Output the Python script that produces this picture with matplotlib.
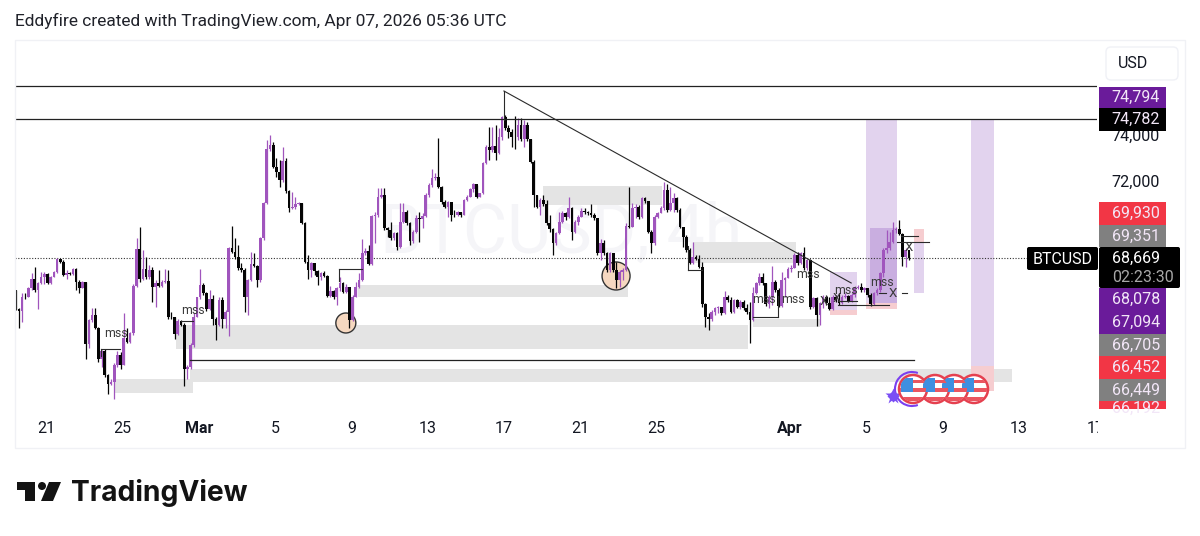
import matplotlib
matplotlib.use("Agg")
import matplotlib.pyplot as plt
from matplotlib.patches import Rectangle, Circle, Ellipse, FancyBboxPatch, Polygon, Arc

plt.rcParams['font.family'] = ['Roboto', 'DejaVu Sans']

closes = [66440,66330,66970,66960,67330,67735,67255,67545,67835,67950,67545,67835,68050,68590,68490,67910,68010,67950,68155,67620,
67330,67620,64910,65950,66170,65630,64240,64615,63560,63195,63270,63990,64430,63990,65195,65010,65370,67430,69025,67760,
68155,67805,68125,67370,67545,67430,67620,67650,66095,66065,65340,65920,65730,63805,63920,64865,66095,66935,67470,67110,
66415,66890,65980,65730,66820,65980,66315,69070,68925,68705,68200,68125,66965,67690,68370,68300,67690,69500,71025,73375,
73565,72590,72400,72040,72865,71575,70810,70880,71000,71055,70185,68490,68125,68445,68095,67805,68010,67865,66995,67225,
66965,67330,67575,67180,67370,65950,66965,67400,67690,68850,68965,68385,70475,70520,71315,71390,69940,69865,69500,69720,
69140,70230,70660,70155,69400,69790,70375,70330,70475,71390,71820,72110,72185,71750,71100,70880,71100,70520,70510,70660,
70520,71170,71315,71635,71865,71315,71460,72765,73490,73345,73520,73200,73925,74795,74290,74140,73925,73895,74430,73810,
74430,73810,72840,71390,70880,71170,71000,70155,69895,69285,69720,70230,70620,70415,70810,69790,70230,70445,70705,70660,
70590,70520,70375,68850,69285,68850,68125,68850,68125,67690,68050,68125,70055,70010,70810,70880,70415,71240,71140,69790,
69285,70445,70590,70810,71605,70735,71025,71240,70735,70010,69575,68995,68445,68705,68630,68270,66650,66095,65980,66315,
66460,66500,66240,66965,66820,66315,66820,66530,66750,66460,66285,65950,67110,67545,67835,67545,66650,66965,67620,67255,
66560,67690,67765,68155,68230,68780,68415,68850,68200,68560,66500,66895,66170,66675,66965,66675,66415,66965,66820,66675,
66965,66995,66790,67040,67330,67400,67255,67330,67040,66650,67110,67255,67980,68995,69070,69360,69865,69895,69690,68705,
68995,68669]
highs = [67255,66470,67110,67110,67400,67980,68270,67620,68050,68050,68010,67865,68095,68660,68620,68560,68125,68050,68200,68200,
67690,67660,67620,66020,66460,66460,65660,64645,64675,63630,63410,64065,64615,64570,66280,65590,65440,67515,69500,70010,
68995,68705,68340,68270,67690,68125,67690,68155,68125,66310,66095,66020,65950,65805,63990,64935,66240,66965,68155,67575,
67180,67255,67040,66095,66965,66965,66385,69140,70055,69500,69210,68415,68200,67760,68920,68850,68340,69575,71100,73780,
74000,73710,72980,72910,73490,72980,71605,71530,71315,71100,71055,70230,68780,68490,68125,68125,68050,68095,67910,67430,
67255,67400,67835,67620,67515,67330,67040,67620,67980,69460,69070,69210,70520,70660,71705,71675,71675,70010,70230,69790,
69790,71025,71025,70735,70230,69865,70520,70660,70590,71460,71895,72505,72330,73850,71780,71170,71140,71055,70735,70705,
70660,71200,71390,71680,71925,71820,71490,72840,73560,74330,74360,74430,74290,74825,74865,74430,74245,74825,74720,74720,
74650,74580,73840,72910,71390,71240,71390,71170,70520,69940,69790,70660,70705,70660,71285,70880,70300,70520,70810,70810,
70705,70995,70590,70400,69460,69430,68920,68920,68880,68490,68125,68200,70155,71750,71025,70995,70950,71315,71315,71140,
69865,70520,70660,70910,71970,71865,71750,71460,71315,70810,70010,69650,69070,69360,68780,68780,68490,66675,66240,66385,
66530,66560,66530,67225,67040,66965,66890,66890,66820,66820,66650,66750,67400,67620,67980,68010,67575,67040,68300,67690,
67330,68050,67835,68270,68340,68850,68920,68920,69110,68630,68590,66965,66935,66750,67040,67040,66965,67040,67040,67110,
67040,67110,67040,67110,67430,67470,67545,67370,67285,67110,67180,67330,68050,69070,69865,69790,70230,70010,70300,69720,
69070,68850]
lows = [66385,65630,65880,66890,66965,67255,67180,66440,67515,67515,67500,67515,67805,67980,68415,67865,67760,67910,67910,67255,
67140,67330,64280,64720,65880,65545,64140,63920,63485,62730,63120,62540,63920,63805,63990,64935,64935,65300,67400,67620,
67690,67750,67760,66750,66500,67370,67400,67545,66020,66010,65110,65300,65690,63080,63370,63805,64790,66065,66890,67040,
66355,66385,65730,65080,65690,65590,65590,65255,68850,68630,68125,68050,66310,66170,67650,68240,67400,67620,69430,71000,
73315,72550,72185,71750,71970,71490,70660,70765,70765,70950,70125,68415,67750,67835,67910,67470,67690,67805,66935,66965,
66890,66600,67225,67110,67110,65590,65920,66935,67330,67660,68780,68330,68340,69285,70445,71240,69865,69575,69430,69430,
68995,69095,70155,70070,69210,69285,69720,69360,69940,70415,71285,71750,72040,71680,71000,70810,70445,70270,70445,70475,
70445,70520,71140,71285,71530,71240,71285,71430,72735,72910,73270,72910,73170,73780,74215,73850,73490,73375,73780,73750,
73490,73750,72765,70850,70810,70520,70910,70080,69790,68780,69210,69690,70185,70300,70375,69430,69720,70080,70415,70560,
70520,70445,70300,68780,68560,68780,68050,68050,68050,67330,67400,67690,68095,69940,70010,70375,70330,70375,71025,69720,
68850,69210,70375,70590,70735,70660,70705,70660,70660,69940,69140,68920,68385,68385,68560,68200,66530,65660,65515,65920,
66170,66240,66170,66210,66750,66240,66270,66460,66415,66385,66210,64935,65920,67080,67470,67470,66560,66460,66605,67180,
66500,66530,66935,67765,68050,68200,68340,68385,68125,68125,66440,66460,65690,65730,66460,66605,66385,66385,66750,66605,
66645,66895,66750,66760,66965,67285,67180,67180,66965,66560,66605,67040,67180,67835,68880,68995,69285,69720,69650,68300,
68270,68560]

first_open = 67255
first_day = -9.61
candles_per_day = 6

# day offsets from 1 March, with their axis labels
tick_days = [-8, -4, 0, 4, 8, 12, 16, 20, 24, 31, 35, 39, 43, 47]
tick_labels = ['21', '25', 'Mar', '5', '9', '13', '17', '21', '25', 'Apr', '5', '9', '13', '17']
price_ticks = [74000, 72000]
price_tick_labels = ['74,000', '72,000']
last_price = 68669

# (day start, day end, price low, price high)
gray_zones = [(-4.40,-0.31,62782,63391),(-1.21,28.79,64695,65739),(-0.47,42.63,63260,63826),
              (8.34,22.50,66956,67478),(18.04,24.28,70956,71783),(25.90,31.31,68435,69348),(29.05,32.56,65652,66000)]
purple_zones = [(35.0,36.6,66695,74700),(40.5,41.7,63950,74700),(37.5,38.0,67130,69300),(33.1,34.5,66390,68040)]
dark_purple_zones = [(35.2,36.6,66695,69956)]
pink_zones = [(35.0,36.6,66435,66695),(40.5,41.7,62870,63950),(37.5,38.0,69300,69900),(33.1,34.5,66170,66390)]
# horizontal levels: (day start, day end, price)
levels = [(-9.65,47.1,76130),(-9.65,47.1,74700),(-0.47,37.5,64217)]
# thin structure segments: (day1, price1, day2, price2)
segments = [(15.99,75913,15.99,74650),(15.99,75913,34.2,67565),
            (-5.14,64695,-4.14,64695),(-5.14,64695,-5.14,64400),(-0.94,65900,-0.31,65900),
            (7.35,68170,8.56,68170),(7.35,68170,7.35,67650),(25.64,68130,26.38,68130),(25.64,69170,25.64,68130),
            (29.05,66090,30.36,66090),(30.36,66090,30.36,67000),(33.51,66780,34.5,66780),(33.51,66600,36.2,66600),
            (36.6,69350,38.3,69350),(36.8,69610,37.7,69610),(35.66,67130,36.0,67130),(36.86,67130,37.13,67130)]
# drawn labels: (text, day, price)
mss_labels = [('mss',-4.35,65390),('mss',-0.31,66350),('mss',29.6,66826),('mss',31.15,66826),('mss',31.94,67956),
              ('mss',33.92,67260),('mss',35.8,67565)]
x_labels = [('X',32.77,66740),('X',33.45,66870),('X',36.4,67130),('X',37.23,69087)]
# value tags on the price scale, top to bottom
tag_texts = ['74,794','74,782','69,930','69,351','68,078','67,094','66,705','66,452','66,449','66,192']
tag_colors = ['#6a1b9a','#000000','#f23645','#808080','#6a1b9a','#6a1b9a','#808080','#f23645','#808080','#f23645']
tag_tops = [87,108,202,225,288,311,334,356,379,401]
tag_bottoms = [108,131,225,247,311,334,356,379,401,409]

W, H = 1200, 536
fig = plt.figure(figsize=(W/100, H/100), dpi=100, facecolor='white')
L, R, T, B = 15, 1097, 40, 410
ax = fig.add_axes([L/W, 1-B/H, (R-L)/W, (B-T)/H])
ax.set_xlim((L-199)/19.07, (R-199)/19.07)
ax.set_ylim(74000-43.48*(B-135), 74000+43.48*(135-T))
for s in ax.spines.values():
    s.set_visible(False)

days = [first_day + i/candles_per_day for i in range(len(closes))]
opens = [first_open] + closes[:-1]
UP, DOWN = '#a055bd', '#050505'
colors = [UP if c >= o else DOWN for o, c in zip(opens, closes)]

ax.text(18.98, 69700, 'BTCUSD, 4h', fontsize=49, color='#f5f5f8', ha='center', va='center', zorder=0.5)

for a, b, lo, hi in gray_zones:
    ax.add_patch(Rectangle((a, lo), b-a, hi-lo, fc='#e4e4e4', ec='none', zorder=1))
for a, b, lo, hi in purple_zones:
    ax.add_patch(Rectangle((a, lo), b-a, hi-lo, fc='#e2d3ee', ec='none', zorder=1.2))
for a, b, lo, hi in dark_purple_zones:
    ax.add_patch(Rectangle((a, lo), b-a, hi-lo, fc='#c9aee0', ec='none', zorder=1.3))
for a, b, lo, hi in pink_zones:
    ax.add_patch(Rectangle((a, lo), b-a, hi-lo, fc='#f6cdd0', ec='none', zorder=1.2))

ax.add_patch(Ellipse((7.7, 65826), 2*10/19.07, 2*10*43.48, fc='#f6d8c0', ec='#333333', lw=1, zorder=1.5))
ax.add_patch(Ellipse((21.87, 67870), 2*14/19.07, 2*14*43.48, fc='#f6d8c0', ec='#333333', lw=1, zorder=1.5))

ax.hlines(last_price, (L-199)/19.07, (1027-199)/19.07, colors='#333333', linestyles=(0, (1, 1.5)), lw=0.8, zorder=1.8)
ax.vlines(days, lows, highs, colors=colors, lw=0.9, zorder=3)
ax.bar(days, [abs(c-o) or 40 for o, c in zip(opens, closes)], bottom=[min(o, c) for o, c in zip(opens, closes)],
       width=0.14, color=colors, lw=0, zorder=3.2)

for a, b, p in levels:
    ax.plot([a, b], [p, p], color='#222222', lw=0.9, zorder=4)
for x1, p1, x2, p2 in segments:
    ax.plot([x1, x2], [p1, p2], color='#2a2a2a', lw=0.8, zorder=4)
for t, d, p in mss_labels:
    ax.text(d, p, t, fontsize=8.8, color='#3a3a3a', ha='center', va='center', zorder=5)
for t, d, p in x_labels:
    ax.text(d, p, t, fontsize=9.5, color='#3a3a3a', ha='center', va='center', zorder=5)

ax.set_xticks(tick_days)
ax.set_xticklabels(tick_labels, fontsize=11.5, color='#131722')
for lab in ax.get_xticklabels():
    if lab.get_text() in ('Mar', 'Apr'):
        lab.set_fontweight('bold')
ax.tick_params(axis='x', length=0, pad=8)
ax.yaxis.tick_right()
ax.set_yticks(price_ticks)
ax.set_yticklabels(price_tick_labels, fontsize=11.5, color='#131722')
ax.tick_params(axis='y', length=0, pad=10)

# page furniture, in pixel coordinates
ov = fig.add_axes([0, 0, 1, 1], facecolor='none', zorder=5)
ov.set_xlim(0, W)
ov.set_ylim(H, 0)
ov.axis('off')

ov.add_patch(Rectangle((R+1, 412), 90, 36, fc='white', ec='none'))
ov.add_patch(Rectangle((15, 40), 1170, 408, fc='none', ec='#f0f1f5', lw=1))
ov.text(15, 21, 'Eddyfire created with TradingView.com, Apr 07, 2026 05:36 UTC', fontsize=12.5,
        color='#20222a', ha='left', va='center')
ov.add_patch(FancyBboxPatch((1106, 47), 72, 33, boxstyle='round,pad=0,rounding_size=5', fc='white', ec='#f0f1f6', lw=1))
ov.text(1133, 63, 'USD', fontsize=11.5, color='#131722', ha='center', va='center')

for s, c, t, b in zip(tag_texts, tag_colors, tag_tops, tag_bottoms):
    ov.add_patch(Rectangle((1099, t), 67, b-t, fc=c, ec='none'))
    clipper = Rectangle((1099, t), 67, b-t, transform=ov.transData)
    txt = ov.text(1136, (t+b)/2+(3 if b-t < 15 else 0), s, fontsize=11.5, color='#f2e6f7', ha='center', va='center')
    txt.set_clip_path(clipper)
ov.add_patch(FancyBboxPatch((1099, 247), 81, 41, boxstyle='round,pad=0,rounding_size=2', fc='black', ec='none'))
ov.text(1112, 258, '68,669', fontsize=11.5, color='white', ha='left', va='center')
ov.text(1112, 277, '02:23:30', fontsize=11.5, color='#a8a8a8', ha='left', va='center')
ov.add_patch(FancyBboxPatch((1027, 247), 71, 23, boxstyle='round,pad=0,rounding_size=2', fc='black', ec='none'))
ov.text(1063, 259, 'BTCUSD', fontsize=11.5, color='white', ha='center', va='center')

# economic event markers
ov.add_patch(Arc((912, 389), 34, 34, theta1=70, theta2=290, ec='#7a3ff0', lw=1.5))
ov.plot([893], [396], marker='D', ms=6, color='#7a4ef5', mec='none')
ov.plot([893], [396], marker='*', ms=12, color='#7a4ef5', mec='none')
for cx in [974, 954, 935, 913]:
    c = Circle((cx, 389), 14, fc='white', ec='#e5404f', lw=1.8, zorder=3)
    ov.add_patch(c)
    clip = Circle((cx, 389), 13, transform=ov.transData)
    for (x, y, w, h, col) in [(cx-14, 397, 28, 4, '#ea5560'), (cx-14, 388, 28, 4, '#ea5560'),
                              (cx-14, 380, 28, 3, '#ea5560'), (cx-12, 378, 12, 14, '#3f8fe0')]:
        r = Rectangle((x, y), w, h, fc=col, ec='none', zorder=3.1)
        ov.add_patch(r)
        r.set_clip_path(clip)

# logo
ov.add_patch(Polygon([(17, 482), (35, 482), (35, 501), (25, 501), (25, 490), (17, 490)], fc='#131313', ec='none'))
ov.add_patch(Circle((42, 486), 4, fc='#131313', ec='none'))
ov.add_patch(Polygon([(49, 482), (61, 482), (53, 501), (41, 501)], fc='#131313', ec='none'))
ov.text(71, 493, 'TradingView', fontsize=20.3, fontweight='bold', family=['Inter', 'DejaVu Sans'],
        color='#131313', ha='left', va='center')

fig.savefig('out.png', dpi=100)
